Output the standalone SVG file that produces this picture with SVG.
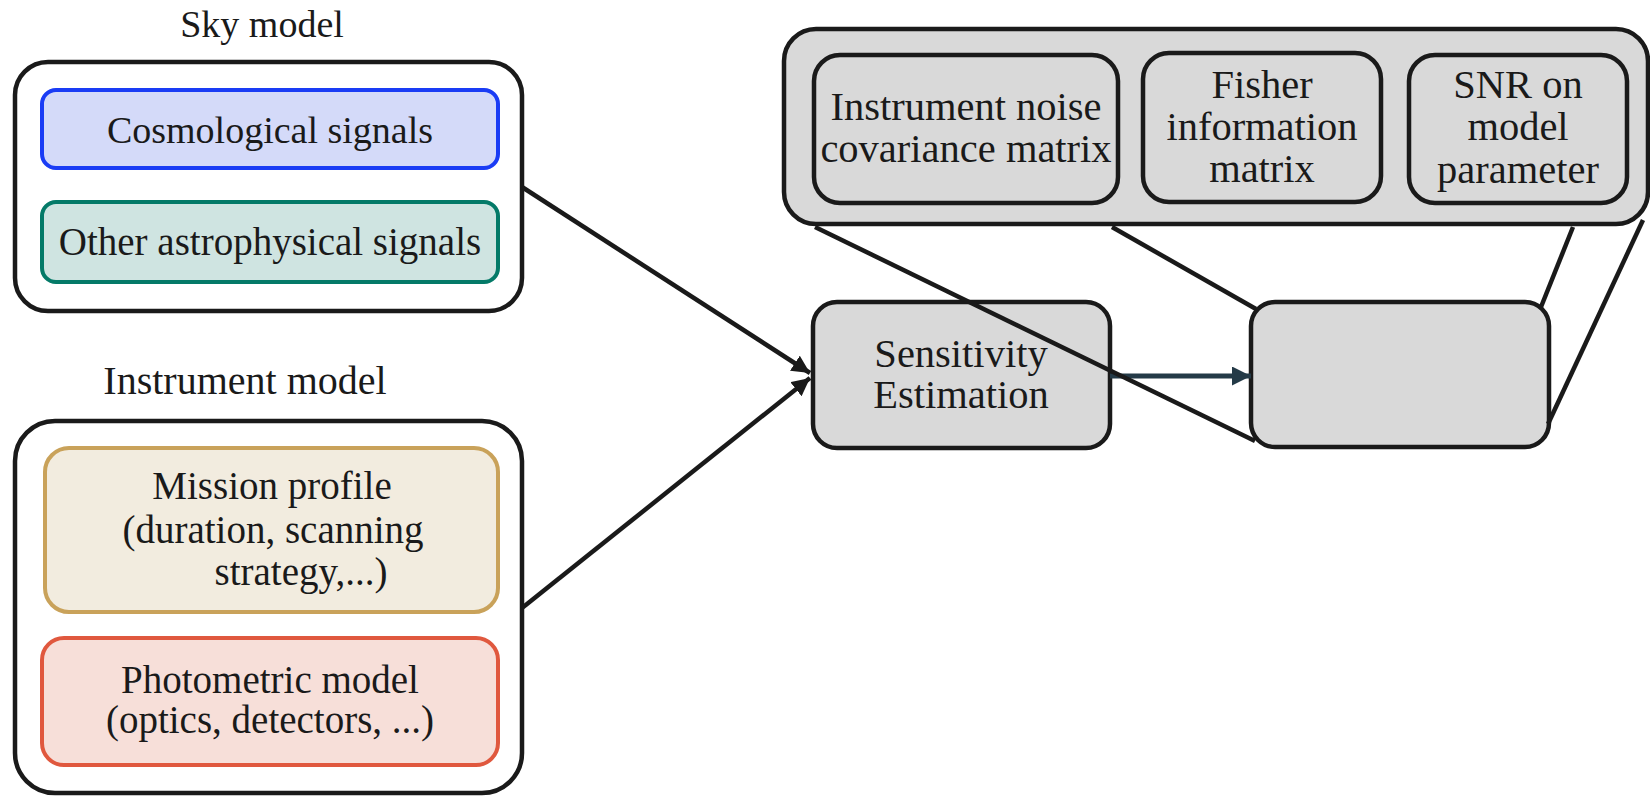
<svg xmlns="http://www.w3.org/2000/svg" width="1650" height="797" viewBox="0 0 1650 797">
<defs>
<style>
text{font-family:"Liberation Serif","DejaVu Serif",serif;font-size:39px;fill:#1a1a1a;text-anchor:middle}
.r text{font-size:40.5px}
.outer{fill:#fff;stroke:#1a1a1a;stroke-width:4.5}
.gray{fill:#d9d9d9;stroke:#1a1a1a;stroke-width:4.5}
.ln{stroke:#1a1a1a;stroke-width:4.5;fill:none}
</style>
<marker id="ah" viewBox="0 0 10 10" refX="10" refY="5" markerWidth="4" markerHeight="4" orient="auto" markerUnits="strokeWidth">
<path d="M0,0 L10,5 L0,10 z" fill="#1a1a1a"/>
</marker>
<marker id="ah2" viewBox="0 0 10 10" refX="10" refY="5" markerWidth="3.8" markerHeight="3.8" orient="auto" markerUnits="strokeWidth">
<path d="M0,0 L10,5 L0,10 z" fill="#243a47"/>
</marker>
</defs>
<rect width="1650" height="797" fill="#fff"/>

<g id="sky-model">
<text x="262" y="37" style="font-size:38px">Sky model</text>
<rect class="outer" x="15" y="62" width="507" height="249" rx="33"/>
<g id="cosmological">
<rect x="42" y="90" width="456" height="78" rx="14" fill="#d4daf9" stroke="#1a3cf5" stroke-width="4"/>
<text x="270" y="143" style="font-size:38px">Cosmological signals</text>
</g>
<g id="astro">
<rect x="42" y="202" width="456" height="80" rx="14" fill="#cfe4e1" stroke="#047a68" stroke-width="4"/>
<text x="270" y="255">Other astrophysical signals</text>
</g>
</g>

<g id="instrument-model">
<text x="245" y="394" style="font-size:40px">Instrument model</text>
<rect class="outer" x="15" y="421" width="507" height="372" rx="40"/>
<g id="mission">
<rect x="45" y="448" width="453" height="164" rx="24" fill="#f2ecdf" stroke="#c9a25a" stroke-width="4"/>
<text x="272" y="499">Mission profile</text>
<text x="273" y="543">(duration, scanning</text>
<text x="301" y="585">strategy,...)</text>
</g>
<g id="photometric">
<rect x="42" y="638" width="456" height="127" rx="22" fill="#f7dfd9" stroke="#e0583e" stroke-width="4"/>
<text x="270" y="693">Photometric model</text>
<text x="270" y="733">(optics, detectors, ...)</text>
</g>
</g>

<g id="outputs" class="r">
<rect class="gray" x="784" y="29" width="864" height="195" rx="32"/>
<g id="noise-cov">
<rect class="gray" x="814" y="55" width="304" height="148" rx="26"/>
<text x="966" y="120">Instrument noise</text>
<text x="966" y="162">covariance matrix</text>
</g>
<g id="fisher">
<rect class="gray" x="1143" y="53" width="238" height="149" rx="26"/>
<text x="1262" y="98">Fisher</text>
<text x="1262" y="140">information</text>
<text x="1262" y="182">matrix</text>
</g>
<g id="snr">
<rect class="gray" x="1409" y="55" width="218" height="148" rx="26"/>
<text x="1518" y="98">SNR on</text>
<text x="1518" y="140">model</text>
<text x="1518" y="183">parameter</text>
</g>
</g>

<g id="sensitivity" class="r">
<rect class="gray" x="813" y="302" width="297" height="146" rx="24"/>
<text x="961" y="367">Sensitivity</text>
<text x="961" y="408">Estimation</text>
</g>

<g id="result">
<rect class="gray" x="1251" y="302" width="298" height="145" rx="24"/>
</g>

<g id="connectors">
<line class="ln" x1="522" y1="187" x2="810" y2="373" marker-end="url(#ah)"/>
<line class="ln" x1="522" y1="608" x2="810" y2="378" marker-end="url(#ah)"/>
<line x1="1110" y1="376" x2="1251" y2="376" stroke="#243a47" stroke-width="5" marker-end="url(#ah2)"/>
<line class="ln" x1="815" y1="227" x2="1255" y2="441"/>
<line class="ln" x1="1112" y1="227" x2="1256" y2="309"/>
<line class="ln" x1="1573" y1="227" x2="1541" y2="307"/>
<line class="ln" x1="1643" y1="220" x2="1548" y2="424"/>
</g>
</svg>
